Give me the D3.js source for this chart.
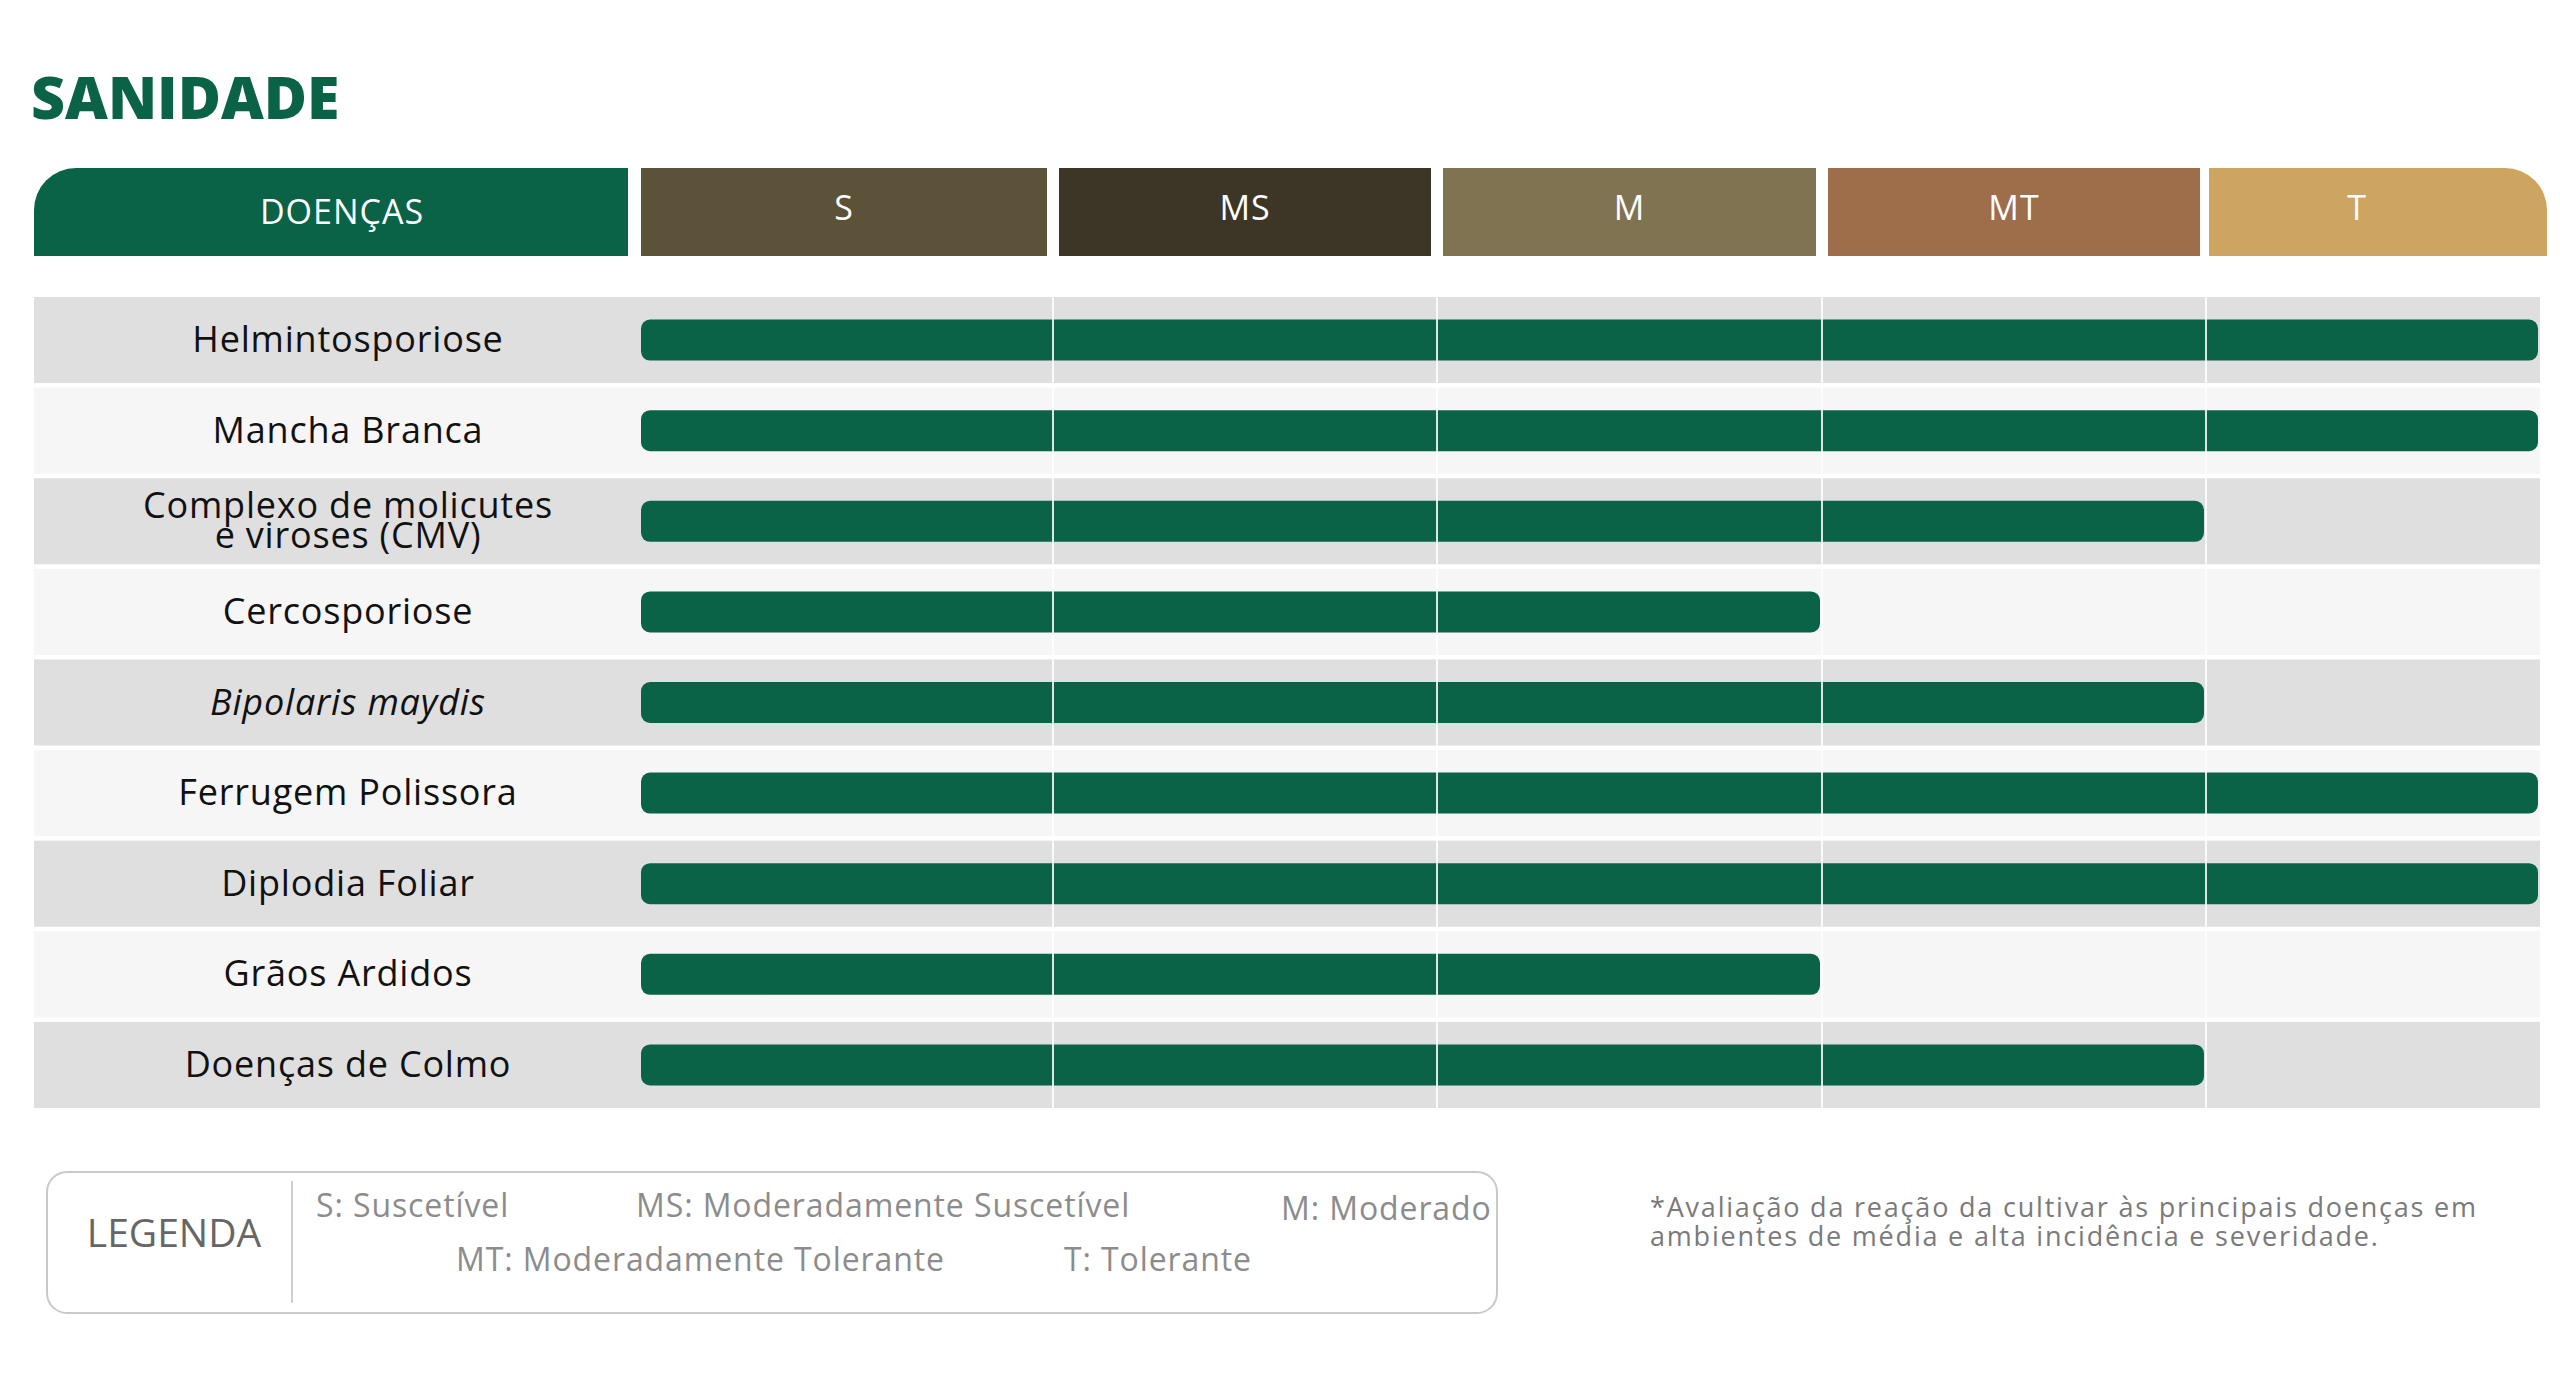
<!DOCTYPE html>
<html lang="pt-BR">
<head>
<meta charset="utf-8">
<title>Sanidade</title>
<script src="https://cdn.jsdelivr.net/npm/d3@7"></script>
<style>
    html, body { margin: 0; padding: 0; background: #ffffff; }
    svg { display: block; font-family: "Open Sans", "Noto Sans", sans-serif; }
</style>
</head>
<body>
<svg id="grafico" width="2560" height="1376"></svg>
<script>

// niveis de reacao (colunas)
const niveis = ["S", "MS", "M", "MT", "T"];

// doencas (linhas) e nivel alcancado por cada uma
const doencas = [
    "Helmintosporiose",
    "Mancha Branca",
    "Complexo de molicutes\ne viroses (CMV)",
    "Cercosporiose",
    "Bipolaris maydis",
    "Ferrugem Polissora",
    "Diplodia Foliar",
    "Grãos Ardidos",
    "Doenças de Colmo"
];
const reacoes = ["T", "T", "MT", "M", "MT", "T", "T", "M", "MT"];
const italicos = ["Bipolaris maydis"];

const legendaItens = [
    "S: Suscetível",
    "MS: Moderadamente Suscetível",
    "M: Moderado",
    "MT: Moderadamente Tolerante",
    "T: Tolerante"
];

const nota = [
    "*Avaliação da reação da cultivar às principais doenças em",
    "ambientes de média e alta incidência e severidade."
];

const verde = "#0a6347";
const coresNiveis = ["#5c5139", "#3d3626", "#807352", "#9e6e4b", "#cda561"];

let svg = d3.select("#grafico");

// colunas com larguras desiguais -> escala linear por partes
let x = d3.scaleLinear()
    .domain([0, 1, 2, 3, 4, 5])
    .range([641, 1053, 1437, 1822, 2206, 2540]);

let y = d3.scaleBand()
    .domain(doencas)
    .range([297, 1108])
    .paddingInner(0.05);

// titulo
svg.append("text")
    .attr("x", 31)
    .attr("y", 119)
    .style("font-size", "59px")
    .style("font-weight", 800)
    .style("fill", verde)
    .text("SANIDADE");

// cabecalho
function cantoArredondado(x0, x1, y0, y1, r, lado) {
    let p = d3.path();
    if (lado === "esq") {
        p.moveTo(x0, y1);
        p.lineTo(x0, y0 + r);
        p.arcTo(x0, y0, x0 + r, y0, r);
        p.lineTo(x1, y0);
        p.lineTo(x1, y1);
    } else {
        p.moveTo(x0, y1);
        p.lineTo(x0, y0);
        p.lineTo(x1 - r, y0);
        p.arcTo(x1, y0, x1, y0 + r, r);
        p.lineTo(x1, y1);
    }
    p.closePath();
    return p.toString();
}

let cab = svg.append("g").attr("id", "cabecalho");
let raio = 42;

cab.append("path")
    .attr("d", cantoArredondado(34, 628, 168, 256, raio, "esq"))
    .style("fill", verde);

cab.append("text")
    .attr("x", 342)
    .attr("y", 224)
    .attr("text-anchor", "middle")
    .style("font-size", "34px")
    .style("letter-spacing", "1px")
    .style("fill", "#ffffff")
    .text("DOENÇAS");

niveis.forEach(function (nivel, i) {
    let ultimo = i === niveis.length - 1;
    let x0 = i === 0 ? x(0) : x(i) + (ultimo ? 3 : 6);
    let x1 = ultimo ? x(i + 1) + 7 : x(i + 1) - 6;
    let centro = ultimo ? (x0 + x1 - raio) / 2 : (x0 + x1) / 2;

    if (ultimo) {
        cab.append("path")
            .attr("d", cantoArredondado(x0, x1, 168, 256, raio, "dir"))
            .style("fill", coresNiveis[i]);
    } else {
        cab.append("rect")
            .attr("x", x0)
            .attr("y", 168)
            .attr("width", x1 - x0)
            .attr("height", 88)
            .style("fill", coresNiveis[i]);
    }

    cab.append("text")
        .attr("x", centro)
        .attr("y", 220)
        .attr("text-anchor", "middle")
        .style("font-size", "34px")
        .style("letter-spacing", "1px")
        .style("fill", "#ffffff")
        .text(nivel);
});

// linhas da tabela
let linhas = svg.append("g").attr("id", "linhas");

linhas.selectAll("rect.fundo")
    .data(doencas)
    .enter()
    .append("rect")
    .attr("class", "fundo")
    .attr("x", 34)
    .attr("y", d => y(d))
    .attr("width", 2540 - 34)
    .attr("height", y.bandwidth())
    .style("fill", (d, i) => i % 2 === 0 ? "#dfdfdf" : "#f6f6f6");

let rotulos = linhas.selectAll("text.rotulo")
    .data(doencas)
    .enter()
    .append("text")
    .attr("class", "rotulo")
    .attr("text-anchor", "middle")
    .style("font-size", "36px")
    .style("font-weight", 500)
    .style("letter-spacing", "0.8px")
    .style("fill", "#111111")
    .style("font-style", d => italicos.includes(d) ? "italic" : "normal");

rotulos.each(function (d) {
    let partes = d.split("\n");
    let meio = y(d) + y.bandwidth() / 2;
    let altLinha = 30;
    let base = meio + 12 - (partes.length - 1) * altLinha / 2;
    partes.forEach(function (parte, k) {
        d3.select(this).append("tspan")
            .attr("x", 348)
            .attr("y", base + k * altLinha)
            .text(parte);
    }, this);
});

// barras
linhas.selectAll("rect.barra")
    .data(doencas)
    .enter()
    .append("rect")
    .attr("class", "barra")
    .attr("x", x(0))
    .attr("y", d => y(d) + y.bandwidth() / 2 - 20.5)
    .attr("width", (d, i) => x(niveis.indexOf(reacoes[i]) + 1) - x(0) - 2)
    .attr("height", 41)
    .attr("rx", 9)
    .style("fill", verde);

// divisoes verticais brancas por cima de tudo
linhas.selectAll("line.grade")
    .data([1, 2, 3, 4])
    .enter()
    .append("line")
    .attr("class", "grade")
    .attr("x1", d => x(d))
    .attr("x2", d => x(d))
    .attr("y1", y.range()[0])
    .attr("y2", y.range()[1])
    .style("stroke", "#ffffff")
    .style("stroke-width", 2)
    .style("opacity", 0.85);

// legenda
let leg = svg.append("g").attr("id", "legenda");

leg.append("rect")
    .attr("x", 47)
    .attr("y", 1172)
    .attr("width", 1450)
    .attr("height", 141)
    .attr("rx", 20)
    .style("fill", "#ffffff")
    .style("stroke", "#c9c9c9")
    .style("stroke-width", 2);

leg.append("line")
    .attr("x1", 292).attr("x2", 292)
    .attr("y1", 1181).attr("y2", 1303)
    .style("stroke", "#d0d0d0")
    .style("stroke-width", 2);

leg.append("text")
    .attr("x", 174)
    .attr("y", 1247)
    .attr("text-anchor", "middle")
    .style("font-size", "39px")
    .style("fill", "#666666")
    .text("LEGENDA");

let posLegenda = [[316, 1217], [636, 1217], [1281, 1220], [456, 1271], [1064, 1271]];

leg.selectAll("text.item")
    .data(legendaItens)
    .enter()
    .append("text")
    .attr("class", "item")
    .attr("x", (d, i) => posLegenda[i][0])
    .attr("y", (d, i) => posLegenda[i][1])
    .style("font-size", "32px")
    .style("letter-spacing", "0.9px")
    .style("fill", "#8c8c8c")
    .text(d => d);

// nota de rodape
svg.append("g")
    .selectAll("text")
    .data(nota)
    .enter()
    .append("text")
    .attr("x", 1650)
    .attr("y", (d, i) => 1217 + i * 29)
    .style("font-size", "27px")
    .style("letter-spacing", "1.8px")
    .style("fill", "#7a7a7a")
    .text(d => d);

</script>
</body>
</html>
